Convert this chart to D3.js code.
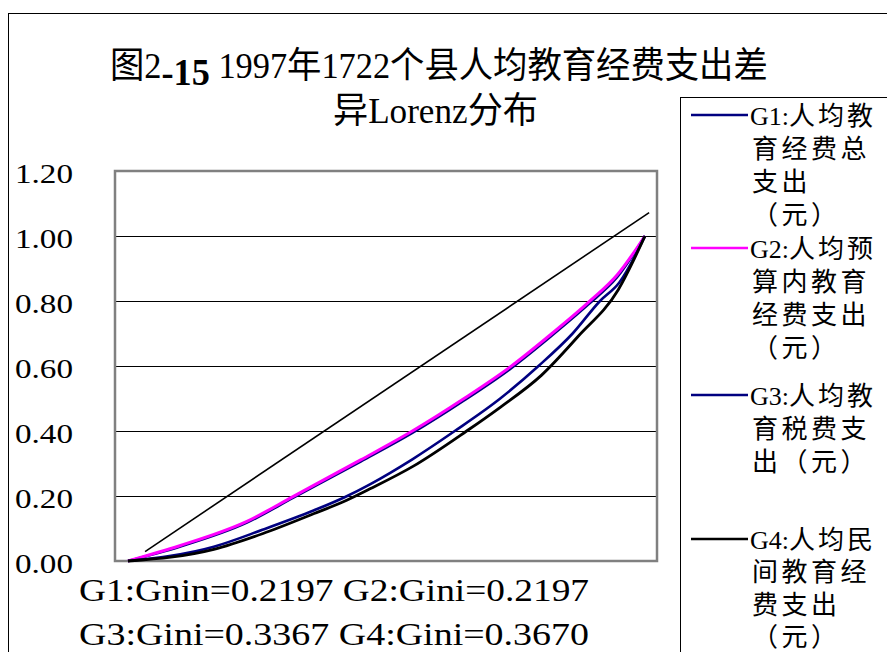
<!DOCTYPE html>
<html><head><meta charset="utf-8">
<script src="https://cdn.jsdelivr.net/npm/d3@7"></script>
<style>body{margin:0;background:#fff}svg{display:block}</style>
</head><body>
<svg id="chart" width="887" height="652"></svg>
<script>
// ---------------- data ----------------
const titleLine1a = "图2";
const titleLine1b = "-15";
const titleLine1c = " 1997年1722个县人均教育经费支出差";
const titleLine2 = "异Lorenz分布";

const yTicks = [0, 0.2, 0.4, 0.6, 0.8, 1.0, 1.2];
const yTickLabels = ["0.00", "0.20", "0.40", "0.60", "0.80", "1.00", "1.20"];

const seriesNames = ["G1:人均教育经费总支出（元）", "G2:人均预算内教育经费支出（元）", "G3:人均教育税费支出（元）", "G4:人均民间教育经费支出（元）"];
const legendLines = [
  ["G1:人均教", "育经费总", "支出", "（元）"],
  ["G2:人均预", "算内教育", "经费支出", "（元）"],
  ["G3:人均教", "育税费支", "出（元）"],
  ["G4:人均民", "间教育经", "费支出", "（元）"]
];
const seriesColors = ["#000080", "#ff00ff", "#000080", "#000000"];

// cumulative share of counties (x) and of expenditure (y)
const g1X = [0, 0.10, 0.23, 0.32, 0.45, 0.55, 0.65, 0.74, 0.82, 0.89, 0.946, 1.0];
const g1Y = [0, 0.044, 0.118, 0.195, 0.306, 0.394, 0.494, 0.592, 0.694, 0.789, 0.873, 1.0];
const g2X = [0, 0.10, 0.23, 0.32, 0.45, 0.55, 0.65, 0.74, 0.82, 0.89, 0.946, 1.0];
const g2Y = [0, 0.047, 0.122, 0.199, 0.311, 0.400, 0.500, 0.598, 0.700, 0.795, 0.880, 1.0];
const g3X = [0, 0.166, 0.26, 0.36, 0.42, 0.468, 0.55, 0.632, 0.72, 0.794, 0.86, 0.913, 0.95, 1.0];
const g3Y = [0, 0.044, 0.096, 0.156, 0.197, 0.236, 0.313, 0.400, 0.500, 0.600, 0.700, 0.800, 0.856, 1.0];
const g4X = [0, 0.166, 0.26, 0.36, 0.423, 0.468, 0.552, 0.655, 0.72, 0.80, 0.87, 0.948, 1.0];
const g4Y = [0, 0.036, 0.084, 0.146, 0.187, 0.222, 0.292, 0.400, 0.473, 0.572, 0.690, 0.834, 1.0];

// line of equality as drawn in the source
const eqX = [0.033, 1.008];
const eqY = [0.029, 1.072];

const giniNotes = ["G1:Gnin=0.2197 G2:Gini=0.2197", "G3:Gini=0.3367 G4:Gini=0.3670"];

// ---------------- drawing ----------------
const FONT = "'Liberation Serif','Noto Sans CJK SC',serif";
const svg = d3.select("#chart");

// outer chart border
svg.append("rect").attr("x", 8.5).attr("y", 13.5).attr("width", 900).attr("height", 700)
  .attr("fill", "#fff").attr("stroke", "#000").attr("stroke-width", 1);

const plot = {left: 115, top: 171, right: 657, bottom: 561};
const x = d3.scaleLinear().domain([0, 1]).range([128, 645]);
const y = d3.scaleLinear().domain([0, 1.2]).range([plot.bottom, plot.top]);

// gridlines
svg.append("g").selectAll("line").data(yTicks.filter(t => t > 0 && t < 1.2)).join("line")
  .attr("x1", plot.left).attr("x2", plot.right)
  .attr("y1", d => Math.round(y(d)) + 0.5).attr("y2", d => Math.round(y(d)) + 0.5)
  .attr("stroke", "#000").attr("stroke-width", 1);

// y axis with labels
const yAxis = d3.axisLeft(y).tickValues(yTicks).tickSize(0).tickFormat((d, i) => yTickLabels[i]);
const ga = svg.append("g").attr("transform", `translate(${plot.left},0)`).call(yAxis);
ga.select(".domain").remove();
ga.selectAll("text")
  .attr("x", 15 - plot.left).attr("dy", null).attr("y", 11.5)
  .attr("text-anchor", "start")
  .attr("font-family", FONT).attr("font-size", 28).attr("fill", "#000")
  .attr("textLength", 58).attr("lengthAdjust", "spacingAndGlyphs");

// plot frame
svg.append("rect").attr("x", plot.left).attr("y", plot.top)
  .attr("width", plot.right - plot.left).attr("height", plot.bottom - plot.top)
  .attr("fill", "none").attr("stroke", "#808080").attr("stroke-width", 2.5);

// equality line
const straight = d3.line().x(d => x(d[0])).y(d => y(d[1]));
svg.append("path").datum(d3.zip(eqX, eqY)).attr("d", straight)
  .attr("fill", "none").attr("stroke", "#000").attr("stroke-width", 1.6);

// Lorenz curves
const curve = d3.line().x(d => x(d[0])).y(d => y(d[1])).curve(d3.curveMonotoneX);
const series = [d3.zip(g1X, g1Y), d3.zip(g2X, g2Y), d3.zip(g3X, g3Y), d3.zip(g4X, g4Y)];
const widths = [2.6, 3, 2.6, 2.8];
svg.append("g").selectAll("path").data(series).join("path")
  .attr("d", curve).attr("fill", "none")
  .attr("stroke", (d, i) => seriesColors[i]).attr("stroke-width", (d, i) => widths[i])
  .attr("stroke-linejoin", "round");

// title
function fitText(sel, x0, width) {
  const w = sel.node().getBBox().width;
  sel.attr("transform", `translate(${x0},0) scale(${width / w},1)`);
}
const t1 = svg.append("text").attr("font-family", FONT).attr("font-size", 36).attr("y", 78).attr("fill", "#000");
t1.append("tspan").text(titleLine1a);
t1.append("tspan").attr("dy", 7).attr("font-weight", "bold").attr("font-size", 38).text(titleLine1b);
t1.append("tspan").attr("dy", -7).text(titleLine1c);
fitText(t1, 110, 658);
const t2 = svg.append("text").attr("font-family", FONT).attr("font-size", 36).attr("y", 123).attr("fill", "#000").text(titleLine2);
fitText(t2, 333, 205);

// gini notes
svg.append("g").selectAll("text").data(giniNotes).join("text")
  .attr("x", 79).attr("y", (d, i) => 601 + i * 44)
  .attr("font-family", FONT).attr("font-size", 31).attr("fill", "#000")
  .attr("textLength", 510).attr("lengthAdjust", "spacingAndGlyphs")
  .text(d => d);

// legend
svg.append("rect").attr("x", 680.5).attr("y", 97.5).attr("width", 300).attr("height", 700)
  .attr("fill", "#fff").attr("stroke", "#000").attr("stroke-width", 1);
const legendTop = [115, 248, 395, 539];
const legendStep = [33, 33, 33, 32.3];
const lg = svg.append("g").selectAll("g").data(legendLines).join("g");
lg.append("line").attr("x1", 691).attr("x2", 748)
  .attr("y1", (d, i) => legendTop[i]).attr("y2", (d, i) => legendTop[i])
  .attr("stroke", (d, i) => seriesColors[i]).attr("stroke-width", 2.6);
lg.each(function(lines, i) {
  d3.select(this).selectAll("text").data(lines).join("text")
    .attr("x", (d, j) => j === 0 ? 750 : 752)
    .attr("y", (d, j) => legendTop[i] + 10 + j * legendStep[i])
    .attr("font-family", FONT).attr("font-size", 26)
    .attr("fill", "#000")
    .each(function(d, j) {
      const t = d3.select(this);
      if (j === 0) {
        t.append("tspan").text(d.slice(0, 3));
        t.append("tspan").attr("letter-spacing", 3).text(d.slice(3, -1));
        t.append("tspan").text(d.slice(-1));
      } else {
        t.attr("letter-spacing", 3.5).text(d);
      }
    });
});
</script>
</body></html>
